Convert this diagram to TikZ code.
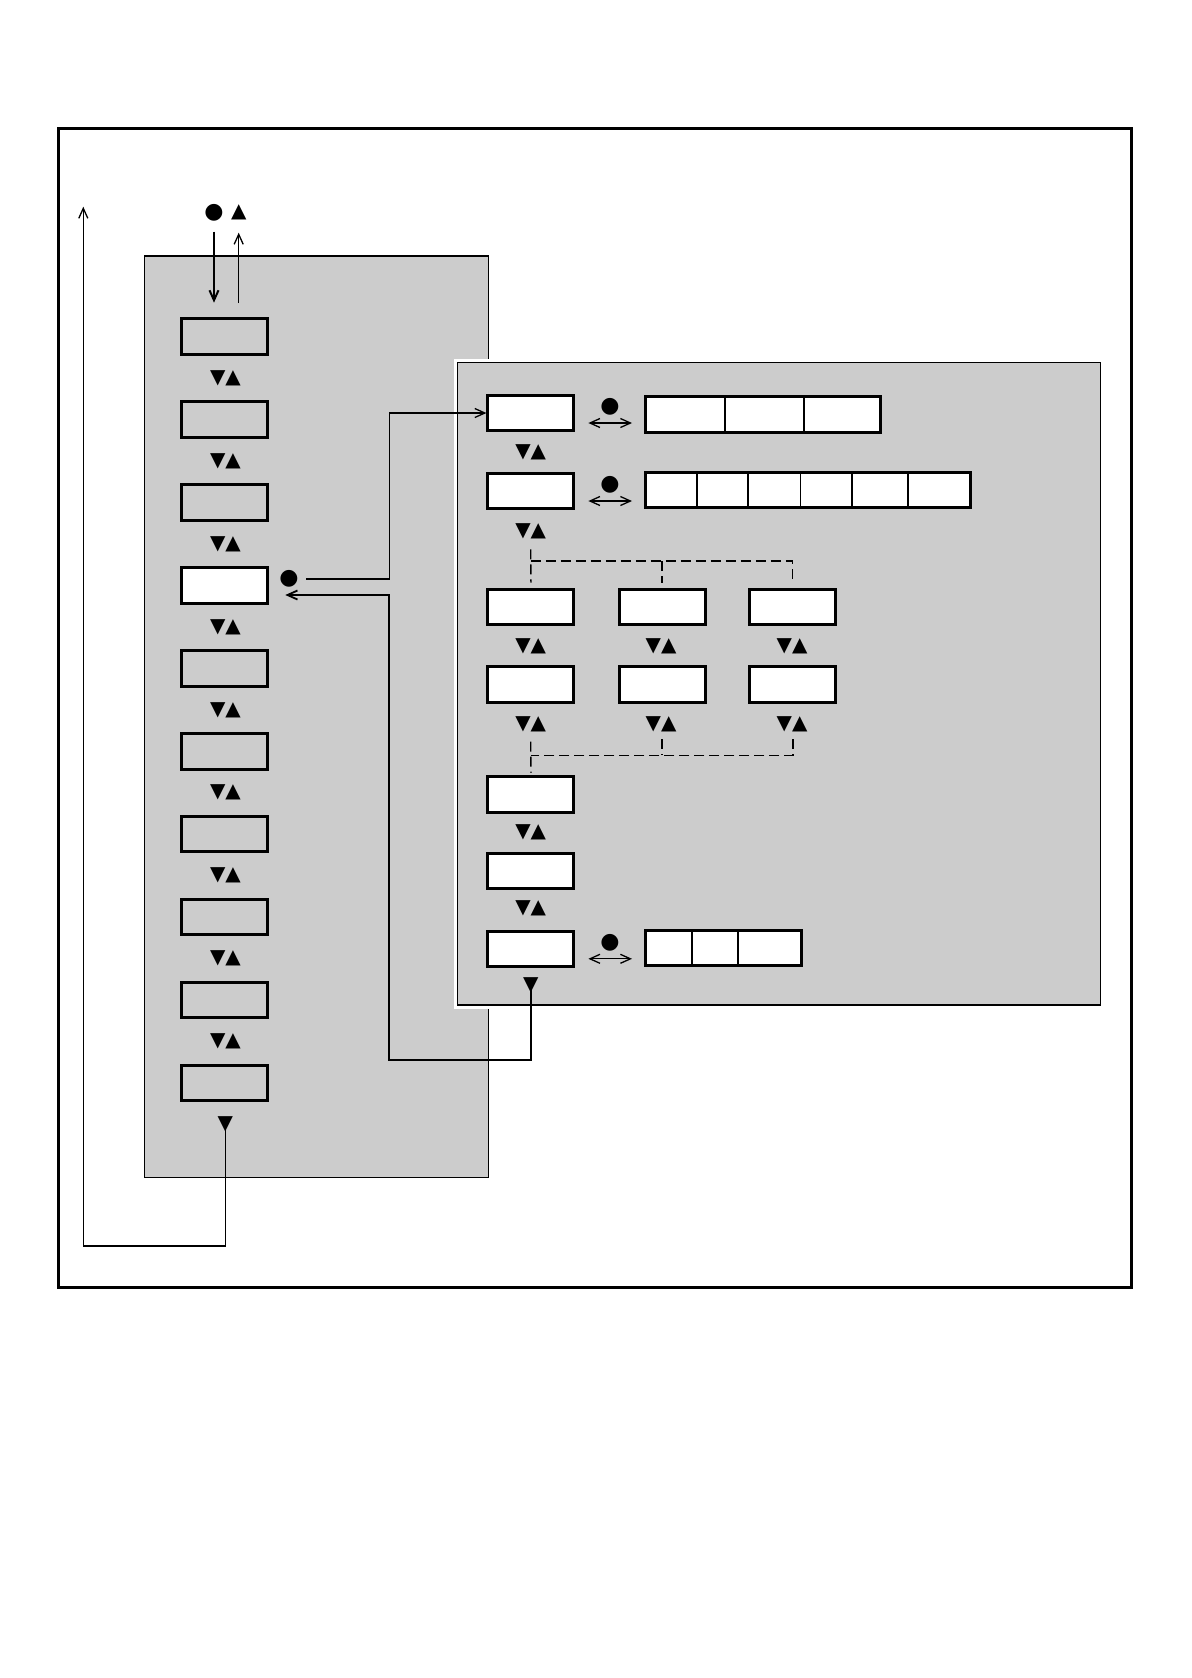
\documentclass[tikz,border=0pt]{standalone}
\usepackage{fontspec}
\newfontfamily\symfont{DejaVu Sans}
\usetikzlibrary{arrows.meta, calc}
\definecolor{panelgrey}{HTML}{CCCCCC}
\tikzset{
  lbox/.style={draw, line width=1.5pt, minimum width=43pt, minimum height=17.8pt, inner sep=0pt},
  rbox/.style={lbox, fill=white},
  cellrow/.style={draw, line width=1.5pt, fill=white, minimum height=17.8pt, inner sep=0pt},
  keys/.style={font=\symfont\fontsize{10}{10}\selectfont, inner sep=0pt},
  dotkey/.style={font=\symfont\fontsize{11}{11}\selectfont, inner sep=0pt},
  conn/.style={line width=0.65pt},
  divider/.style={line width=0.9pt},
  dashline/.style={line width=0.65pt, dash pattern=on 5pt off 2.5pt},
  panel/.style={line width=0.6pt}
}
\begin{document}
\begin{tikzpicture}[x=0.5pt, y=-0.5pt, >={Straight Barb[length=5pt, width=4.5pt]}]
  \useasboundingbox (0,0) rectangle (1191,1678);

  % Frame
  \draw[line width=1.5pt] (58,128.3) rectangle (1131.5,1287.3);

  % Left panel
  \filldraw[fill=panelgrey, panel] (144.3,256) rectangle (488.3,1177.3);
  \foreach \k/\c in {1/panelgrey,2/panelgrey,3/panelgrey,4/white,5/panelgrey,6/panelgrey,7/panelgrey,8/panelgrey,9/panelgrey,10/panelgrey}
    \node[lbox, fill=\c] (lb\k) at (224.8,{253.8+82.9*\k}) {};
  \foreach \k in {1,...,9}
    \node[keys] (lt\k) at (225.5,{295.3+82.9*\k}) {▼▲};
  \node[keys] (lend) at (225.3,1124.3) {▼};

  % Keys on top
  \node[dotkey] (okdot) at (214,212.3) {●};
  \node[keys] (upkey) at (238.7,212) {▲};
  \coordinate (dnstart) at (214,231.7);
  \coordinate (dnend) at (214,302.7);
  \coordinate (upstart) at (238.7,303);
  \coordinate (upend) at (238.7,232.7);
  \draw[->, line width=1pt] (dnstart) -- (dnend);
  \draw[->, conn] (upstart) -- (upend);

  % Right panel
  \draw[white, line width=3.5pt] (457.3,362.5) rectangle (1100.3,1005);
  \filldraw[fill=panelgrey, panel] (457.3,362.5) rectangle (1100.3,1005);

  \node[rbox] (rb1) at (530.9,413) {};
  \node[rbox] (rb2) at (530.9,491) {};
  \node[rbox] (rb3a) at (530.9,606.8) {};
  \node[rbox] (rb3b) at (662,606.8) {};
  \node[rbox] (rb3c) at (792.5,606.8) {};
  \node[rbox] (rb4a) at (530,684.5) {};
  \node[rbox] (rb4b) at (662,684.5) {};
  \node[rbox] (rb4c) at (792.5,684.5) {};
  \node[rbox] (rb5) at (530.9,794.5) {};
  \node[rbox] (rb6) at (530.9,870.8) {};
  \node[rbox] (rb7) at (530.9,948.8) {};

  \node[keys] (rt1) at (530.7,452.7) {▼▲};
  \node[keys] (rt2) at (530.7,531) {▼▲};
  \foreach \x/\n in {530.7/a,661/b,792/c} {
    \node[keys] (rt3\n) at (\x,646) {▼▲};
    \node[keys] (rt4\n) at (\x,724.3) {▼▲};
  }
  \node[keys] (rt5) at (530.7,832.7) {▼▲};
  \node[keys] (rt6) at (530.7,908.3) {▼▲};
  \node[keys] (rend) at (530.7,985.7) {▼};

  % Dashed branches
  \draw[dashline] (530.8,549.3) -- ([yshift=2.5pt]rb3a.north);
  \draw[dashline] (530.8,561) -| ([yshift=2.5pt]rb3c.north);
  \draw[dashline] (662,561) -- ([yshift=2.5pt]rb3b.north);
  \draw[dashline] (530.8,741.7) -- ([yshift=1.2pt]rb5.north);
  \draw[dashline] (662,739) -- (662,755.3);
  \draw[dashline] (793,739) |- (530.8,755.3);

  % Value fields
  \node[cellrow, minimum width=117.5pt] (cr1) at (763,414.7) {};
  \node[cellrow, minimum width=162.3pt] (cr2) at (807.8,489.9) {};
  \node[cellrow, minimum width=78.2pt] (cr7) at (723.7,948) {};
  \foreach \x in {725,803.9}
    \draw[divider] (\x,395.7) -- (\x,433.7);
  \foreach \x in {697.3,748.1,800.4,852,907.7}
    \draw[divider] (\x,471) -- (\x,508.7);
  \foreach \x in {692.3,738.3}
    \draw[divider] (\x,929.3) -- (\x,966.7);

  \foreach \r/\c in {rb1/cr1,rb2/cr2,rb7/cr7} {
    \node[dotkey] (dot\r) at ($(\r.east)+(34.5,-6)$) {●};
    \draw[<->, conn] ([shift={(6.5pt,-5pt)}]\r.east) -- ([shift={(-6pt,-5pt)}]\r.east -| \c.west);
  }

  % Connections
  \coordinate (selout) at (306,579);
  \draw[->, conn] (selout) -| (389.3,480) |- (rb1.west);
  \node[dotkey] (seldot) at (289,579) {●};
  \draw[->, line width=0.9pt, shorten >=8pt] (rend.center) |- (389.3,1060) |- ([yshift=-4.8pt]lb4.east);
  \coordinate (back) at (83.3,206.7);
  \draw[->, conn] (lend.center) |- (83.3,1246) -- (back);
\end{tikzpicture}
\end{document}
